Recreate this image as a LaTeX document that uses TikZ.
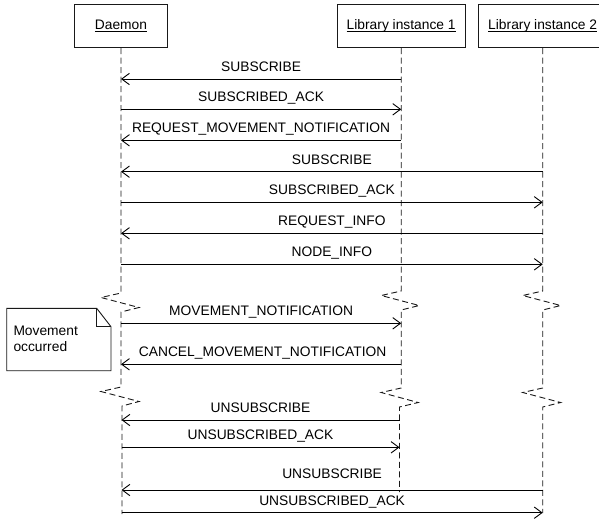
\documentclass[tikz,border=0pt]{standalone}
\usepackage{fontspec}
\setmainfont{Liberation Sans}
\usetikzlibrary{arrows.meta}

% underlined label with a rule at a fixed depth below the baseline
\newcommand\ulbox[1]{\setbox0\hbox{#1}\rlap{\rule[-1.7pt]{\wd0}{0.7pt}}\box0}

\begin{document}
\begin{tikzpicture}[x=1pt,y=-1pt,
  every node/.style={font=\fontsize{13.8}{16.5}\selectfont, inner sep=0pt},
  actor/.style={draw=black!90, fill=white, line width=0.9pt, minimum height=43.4pt,
                text height=10pt, text depth=3pt},
  lifeline/.style={draw=black!90, line width=0.9pt, dash pattern=on 6pt off 3.5pt},
  msg/.style={draw=black, line width=0.9pt,
              -{Straight Barb[length=7.7pt,width=11.4pt,line width=0.9pt]}},
  lbl/.style={anchor=base, yshift=7.7pt},
  notebox/.style={draw=black!90, fill=white, line width=0.9pt},
]
\useasboundingbox (0,0) rectangle (599,520);
\fill[white] (0,0) rectangle (599,520);
\clip (0,0) rectangle (599,520);

% participants
\node[actor, minimum width=92.7pt]  (daemon) at (121,26)   {\ulbox{Daemon}};
\node[actor, minimum width=127.7pt] (lib1)   at (401.2,26) {\ulbox{Library instance 1}};
\node[actor, minimum width=128.8pt] (lib2)   at (542.7,26) {\ulbox{Library instance 2}};

% lifelines, each with two time breaks
\draw[lifeline] (daemon.south) -- (121,293) -- ++(-20,4.5) -- ++(38,10) -- ++(-18,4.5)
  -- (121,387) -- ++(-20,4.5) -- ++(38,10) -- ++(-17,4.5) -- (122,514);
\draw[lifeline] (lib1.south) -- (401.2,291) -- ++(-20,4.5) -- ++(38,10) -- ++(-18,4.5)
  -- (401.2,388) -- ++(-20,4.5) -- ++(37,10) -- ++(-18.7,4.5) -- (399.5,492);
\draw[lifeline] (lib2.south) -- (542.7,291) -- ++(-20,4.5) -- ++(38,10) -- ++(-18,4.5)
  -- (542.7,388) -- ++(-20,4.5) -- ++(38,10) -- ++(-18,4.5) -- (542.7,513);

% message end points on the lifelines
\coordinate (d1) at (121,79);      \coordinate (a1) at (401.2,79);
\coordinate (d2) at (121,109.3);   \coordinate (a2) at (401.2,109.3);
\coordinate (d3) at (121,140.3);   \coordinate (a3) at (401.2,140.3);
\coordinate (d4) at (121,171.7);   \coordinate (b4) at (542.7,171.7);
\coordinate (d5) at (121,202.3);   \coordinate (b5) at (542.7,202.3);
\coordinate (d6) at (121,233.3);   \coordinate (b6) at (542.7,233.3);
\coordinate (d7) at (121,264.3);   \coordinate (b7) at (542.7,264.3);
\coordinate (d8) at (121,323.3);   \coordinate (a8) at (401.2,323.3);
\coordinate (d9) at (121,364.3);   \coordinate (a9) at (401.2,364.3);
\coordinate (d10) at (121.5,420);  \coordinate (a10) at (399.5,420);
\coordinate (d11) at (121.5,447.3);\coordinate (a11) at (399.5,447.3);
\coordinate (d12) at (121.5,490);  \coordinate (b12) at (542.7,490);
\coordinate (d13) at (121.5,512.7);\coordinate (b13) at (542.7,512.7);

% messages
\draw[msg] (a1) -- node[lbl]{SUBSCRIBE} (d1);
\draw[msg] (d2) -- node[lbl]{SUBSCRIBED\_ACK} (a2);
\draw[msg] (a3) -- node[lbl]{REQUEST\_MOVEMENT\_NOTIFICATION} (d3);
\draw[msg] (b4) -- node[lbl]{SUBSCRIBE} (d4);
\draw[msg] (d5) -- node[lbl]{SUBSCRIBED\_ACK} (b5);
\draw[msg] (b6) -- node[lbl]{REQUEST\_INFO} (d6);
\draw[msg] (d7) -- node[lbl]{NODE\_INFO} (b7);
\draw[msg] (d8) -- node[lbl]{MOVEMENT\_NOTIFICATION} (a8);
\draw[msg] (a9) -- node[lbl, xshift=1.5pt]{CANCEL\_MOVEMENT\_NOTIFICATION} (d9);
\draw[msg] (a10) -- node[lbl]{UNSUBSCRIBE} (d10);
\draw[msg] (d11) -- node[lbl]{UNSUBSCRIBED\_ACK} (a11);
\draw[msg] (b12) -- node[lbl, yshift=4pt]{UNSUBSCRIBE} (d12);
\draw[msg] (d13) -- node[lbl]{UNSUBSCRIBED\_ACK} (b13);

% note with folded corner
\draw[notebox] (6.7,308.3) -- (96.7,308.3) -- (111,326.7) -- (111,370.7)
  -- (6.7,370.7) -- cycle;
\draw[notebox, fill=none] (96.7,308.3) -- (96.7,326.7) -- (111,326.7);
% the base anchor of a two-line node is the baseline of its last line
\node[anchor=base west, align=left] (note) at (13.3,351.7) {Movement\\occurred};
\end{tikzpicture}
\end{document}
